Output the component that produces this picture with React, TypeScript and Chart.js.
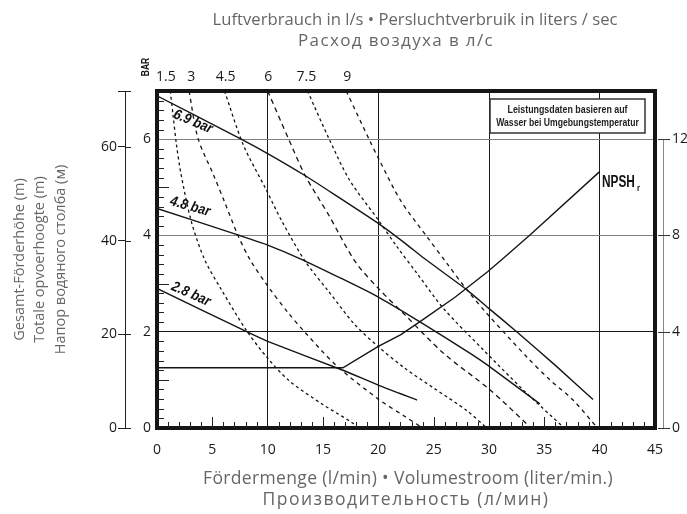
import React, { useEffect, useRef } from 'react';
import { Chart, registerables } from 'chart.js';

Chart.register(...registerables);

const FONT = '"Open Sans", "Noto Sans", sans-serif';
const COND = '"Liberation Sans", Arial, sans-serif';

// ---- Pump performance curves (x: l/min, y: bar) ----
const perf69Q = [0, 7.6, 10, 13.4, 15.9, 20, 22.4, 24.1, 28, 29.9, 32.5, 36.1, 39.4];
const perf69H = [6.9, 6.0, 5.7, 5.24, 4.87, 4.25, 3.84, 3.53, 2.87, 2.5, 2.0, 1.28, 0.59];
const perf48Q = [0, 7.3, 10, 12.9, 16.8, 20, 23.8, 28.3, 29.9, 34.6];
const perf48H = [4.56, 4.01, 3.8, 3.52, 3.09, 2.72, 2.2, 1.55, 1.3, 0.5];
const perf28Q = [0, 8.1, 10, 16.8, 20, 23.5];
const perf28H = [2.9, 2.0, 1.8, 1.2, 0.89, 0.58];

// ---- NPSHr (x: l/min, y: m, right axis) ----
const npshQ = [0, 16.8, 20, 22, 23.8, 26.9, 29.9, 31.3, 33.7, 40];
const npshM = [2.5, 2.5, 3.39, 3.87, 4.43, 5.42, 6.5, 7.05, 8.02, 10.65];

// ---- Air consumption curves (l/s) ----
const air15Q = [1.2, 1.45, 1.75, 2.15, 3.1, 4.3, 5.8, 8.1, 10, 11.9, 14.9, 17.7, 18.1];
const air15H = [7, 6.5, 5.9, 5.3, 4.29, 3.5, 2.88, 2.02, 1.45, 0.99, 0.5, 0.1, 0];
const air3Q = [2.9, 3.7, 5.1, 6.1, 7.3, 8.4, 10, 11.9, 13.4, 16.2, 20, 22.4, 24];
const air3H = [7, 6.02, 5.26, 4.7, 4.01, 3.5, 2.95, 2.38, 1.98, 1.3, 0.6, 0.24, 0];
const air45Q = [6.1, 7.8, 9.8, 11.3, 13.4, 15.5, 17.9, 20, 22.4, 25, 28, 29.8];
const air45H = [7, 5.88, 4.98, 4.29, 3.46, 2.84, 2.14, 1.69, 1.24, 0.83, 0.36, 0];
const air6Q = [10, 11.9, 13.4, 15.5, 17.9, 20, 22.4, 25.9, 30.1, 33.8];
const air6H = [7, 6.0, 5.24, 4.43, 3.46, 2.9, 2.35, 1.55, 0.79, 0];
const air75Q = [13.6, 15.6, 17.4, 20, 21.7, 23.5, 25.9, 29.5, 33.1, 36.8];
const air75H = [7, 5.98, 5.15, 4.32, 3.76, 3.21, 2.48, 1.62, 0.79, 0];
const air9Q = [17.1, 19.2, 20.1, 22, 24.4, 26.2, 27.8, 29.8, 33.4, 35.5, 37.6, 39.8];
const air9H = [7, 5.98, 5.56, 4.73, 3.97, 3.42, 2.93, 2.38, 1.48, 1.0, 0.58, 0];

// ---- Axes ----
const topTickQ = [0.8, 3.1, 6.2, 10.05, 13.5, 17.2];
const topTickLabels = ['1.5', '3', '4.5', '6', '7.5', '9'];
const xGridValues = [10, 20, 30, 40];
const barMax = 7;
const meterMax = 71.9;
const npshMax = 14;

const curveLabels = [
  { text: '6.9 bar', q: 3.25, bar: 6.36, angle: 23 },
  { text: '4.8 bar', q: 3.0, bar: 4.6, angle: 16 },
  { text: '2.8 bar', q: 3.07, bar: 2.78, angle: 24 },
];

const pts = (xs: number[], ys: number[]) => xs.map((x, i) => ({ x, y: ys[i] }));

const solid = (data: any[], yAxisID = 'y', tension = 0.2) => ({
  data,
  yAxisID,
  xAxisID: 'x',
  borderColor: '#151515',
  borderWidth: 1.4,
  pointRadius: 0,
  fill: false,
  tension,
});
const dashed = (data: any[], dash: number[]) => ({
  ...solid(data, 'y', 0.3),
  borderWidth: 1.3,
  borderDash: dash,
});

function fitText(ctx: any, text: string, cx: number, cy: number, w: number, maxSize: number) {
  ctx.save();
  ctx.letterSpacing = '0px';
  ctx.font = `14px ${FONT}`;
  const wBase = ctx.measureText(text).width;
  const size = Math.min(maxSize, (14 * w) / wBase);
  ctx.font = `${size}px ${FONT}`;
  const w0 = ctx.measureText(text).width;
  const ls = (w - w0) / Math.max(1, text.length);
  ctx.letterSpacing = `${ls}px`;
  ctx.textAlign = 'left';
  ctx.textBaseline = 'middle';
  ctx.fillText(text, cx - w / 2, cy);
  ctx.restore();
}

function condText(ctx: any, text: string, x: number, y: number, font: string, sx: number, align: string, angle = 0) {
  ctx.save();
  ctx.translate(x, y);
  if (angle) ctx.rotate(angle);
  ctx.scale(sx, 1);
  ctx.font = font;
  ctx.textAlign = align;
  ctx.fillText(text, 0, 0);
  ctx.restore();
}

const decor = {
  id: 'decor',
  afterDatasetsDraw(chart: any) {
    const { ctx, chartArea: a, scales } = chart;
    const sx = scales.x;
    const sy = scales.y;
    const sm = scales.yM;
    const sr = scales.yR;
    ctx.save();

    // info box
    const bl = a.left + 333, bt = a.top + 8, bw = 155, bh = 34;
    ctx.fillStyle = '#fff';
    ctx.fillRect(bl, bt, bw, bh);
    ctx.strokeStyle = '#333';
    ctx.lineWidth = 1.5;
    ctx.strokeRect(bl, bt, bw, bh);
    ctx.fillStyle = '#222';
    ctx.textBaseline = 'middle';
    condText(ctx, 'Leistungsdaten basieren auf', bl + bw / 2, bt + 11, 'bold 11.5px ' + COND, 0.77, 'center');
    condText(ctx, 'Wasser bei Umgebungstemperatur', bl + bw / 2, bt + 24, 'bold 11.5px ' + COND, 0.75, 'center');

    // curve labels
    ctx.fillStyle = '#111';
    for (const l of curveLabels) {
      condText(ctx, l.text, sx.getPixelForValue(l.q), sy.getPixelForValue(l.bar),
        'italic bold 14.5px ' + COND, 0.88, 'center', (l.angle * Math.PI) / 180);
    }

    // NPSHr label
    ctx.textBaseline = 'alphabetic';
    const nx = a.right - 53, ny = a.top + 96;
    condText(ctx, 'NPSH', nx, ny, 'bold 16px ' + COND, 0.74, 'left');
    ctx.font = 'bold 16px ' + COND;
    const w = ctx.measureText('NPSH').width * 0.74;
    condText(ctx, 'r', nx + w + 2, ny + 4, 'bold 9px ' + COND, 0.85, 'left');

    // frame
    ctx.strokeStyle = '#151515';
    ctx.lineWidth = 4;
    ctx.strokeRect(a.left, a.top, a.right - a.left, a.bottom - a.top);

    // inner minor ticks bottom
    ctx.lineWidth = 1;
    ctx.strokeStyle = '#222';
    for (let v = 1; v < 45; v++) {
      if (v % 10 === 0) continue;
      const px = Math.round(sx.getPixelForValue(v)) + 0.5;
      const len = v % 5 === 0 ? 11 : 6;
      ctx.beginPath();
      ctx.moveTo(px, a.bottom);
      ctx.lineTo(px, a.bottom - len);
      ctx.stroke();
    }
    // inner minor ticks left
    for (let i = 1; i < 35; i++) {
      if (i % 10 === 0) continue;
      const py = Math.round(sy.getPixelForValue(i * 0.2)) + 0.5;
      const len = i % 5 === 0 ? 12 : 7;
      ctx.beginPath();
      ctx.moveTo(a.left, py);
      ctx.lineTo(a.left + len, py);
      ctx.stroke();
    }

    // meter axis: right half of tick marks
    for (const t of sm.ticks) {
      const py = Math.round(sm.getPixelForValue(t.value)) + 0.5;
      ctx.beginPath();
      ctx.moveTo(sm.right, py);
      ctx.lineTo(sm.right + 6, py);
      ctx.stroke();
    }

    // right NPSH axis line + ticks
    const rx = a.right + 8.5;
    ctx.strokeStyle = '#888';
    ctx.beginPath();
    ctx.moveTo(rx, sr.getPixelForValue(12));
    ctx.lineTo(rx, sr.getPixelForValue(0));
    ctx.stroke();
    ctx.strokeStyle = '#333';
    for (const v of [0, 4, 8, 12]) {
      const py = Math.round(sr.getPixelForValue(v)) + 0.5;
      ctx.beginPath();
      ctx.moveTo(a.right + 3, py);
      ctx.lineTo(a.right + 15, py);
      ctx.stroke();
    }

    // BAR label
    ctx.fillStyle = '#111';
    ctx.textBaseline = 'middle';
    condText(ctx, 'BAR', a.left - 11, a.top - 24, 'bold 10px ' + COND, 0.85, 'center', -Math.PI / 2);

    // titles
    ctx.fillStyle = '#666';
    fitText(ctx, 'Luftverbrauch in l/s • Persluchtverbruik in liters / sec', 415, 20, 405, 17);
    fitText(ctx, 'Расход воздуха в л/с', 396, 41, 196, 17);
    fitText(ctx, 'Fördermenge (l/min) • Volumestroom (liter/min.)', 408, 479, 410, 17.5);
    fitText(ctx, 'Производительность (л/мин)', 406, 500, 287, 17.5);

    ctx.restore();
  },
};

export default function App() {
  const ref = useRef<HTMLCanvasElement>(null);
  useEffect(() => {
    const tickFont = { family: FONT, size: 14 };
    const chart = new Chart(ref.current as HTMLCanvasElement, {
      type: 'line',
      data: {
        datasets: [
          solid(pts(perf69Q, perf69H)),
          solid(pts(perf48Q, perf48H)),
          solid(pts(perf28Q, perf28H)),
          solid(pts(npshQ, npshM), 'yR', 0),
          dashed(pts(air15Q, air15H), [3, 3]),
          dashed(pts(air3Q, air3H), [4, 4]),
          dashed(pts(air45Q, air45H), [3, 3]),
          dashed(pts(air6Q, air6H), [5, 4]),
          dashed(pts(air75Q, air75H), [3, 3]),
          dashed(pts(air9Q, air9H), [4, 4]),
        ] as any,
      },
      options: {
        animation: false,
        responsive: true,
        maintainAspectRatio: false,
        layout: { padding: 0 },
        plugins: { legend: { display: false }, tooltip: { enabled: false }, title: { display: false } },
        elements: { point: { radius: 0 } },
        scales: {
          x: {
            type: 'linear',
            position: 'bottom',
            min: 0,
            max: 45,
            ticks: { stepSize: 5, padding: 14, color: '#1a1a1a', font: tickFont, maxRotation: 0, autoSkip: false },
            grid: {
              color: (c: any) => (c.tick && xGridValues.includes(c.tick.value) ? '#1a1a1a' : 'rgba(0,0,0,0)'),
              drawTicks: false,
              lineWidth: 1,
            },
            border: { display: false },
            title: { display: false },
            afterFit: (s: any) => { s.height = 86; },
          },
          x2: {
            type: 'linear',
            position: 'top',
            min: 0,
            max: 45,
            afterBuildTicks: (s: any) => { s.ticks = topTickQ.map((v) => ({ value: v })); },
            ticks: {
              callback: (_v: any, i: number) => topTickLabels[i],
              padding: 6,
              color: '#1a1a1a',
              font: tickFont,
              autoSkip: false,
              maxRotation: 0,
            },
            grid: { display: false, drawTicks: false },
            border: { display: false },
            afterFit: (s: any) => { s.height = 91; },
          },
          y: {
            type: 'linear',
            position: 'left',
            weight: 0,
            min: 0,
            max: barMax,
            ticks: {
              stepSize: 1,
              callback: (v: any) => (v % 2 === 0 ? String(v) : ''),
              padding: 6,
              color: '#1a1a1a',
              font: tickFont,
            },
            grid: {
              color: (c: any) => {
                const v = c.tick ? c.tick.value : -1;
                if (v === 2) return '#1a1a1a';
                if (v === 4 || v === 6) return '#808080';
                return 'rgba(0,0,0,0)';
              },
              drawTicks: false,
            },
            border: { display: false },
            afterFit: (s: any) => { s.width = 32; },
          },
          yM: {
            type: 'linear',
            position: 'left',
            weight: 1,
            min: 0,
            max: meterMax,
            ticks: {
              stepSize: 20,
              callback: (v: any) => (v % 20 === 0 ? String(v) : ''),
              padding: 1,
              color: '#1a1a1a',
              font: tickFont,
            },
            grid: { drawOnChartArea: false, drawTicks: true, tickLength: 7, color: '#222' },
            border: { display: true, color: '#222', width: 1 },
            title: {
              display: true,
              text: ['Gesamt-Förderhöhe (m)', 'Totale opvoerhoogte (m)', 'Напор водяного столба (м)'],
              color: '#666',
              font: { family: FONT, size: 14.5, lineHeight: 20.5 / 14.5 },
              padding: { top: 9.25, bottom: 0 },
            },
            afterFit: (s: any) => { s.width = 125; },
          },
          yR: {
            type: 'linear',
            position: 'right',
            min: 0,
            max: npshMax,
            ticks: {
              stepSize: 4,
              callback: (v: any) => (v % 4 === 0 ? String(v) : ''),
              padding: 17,
              color: '#1a1a1a',
              font: tickFont,
            },
            grid: { display: false, drawTicks: false },
            border: { display: false },
            afterFit: (s: any) => { s.width = 32; },
          },
        } as any,
      },
      plugins: [decor],
    });
    return () => chart.destroy();
  }, []);
  return (
    <div style={{ position: 'fixed', left: 0, top: 0, width: 687, height: 514, background: '#fff' }}>
      <canvas ref={ref} style={{ display: 'block' }} />
    </div>
  );
}
